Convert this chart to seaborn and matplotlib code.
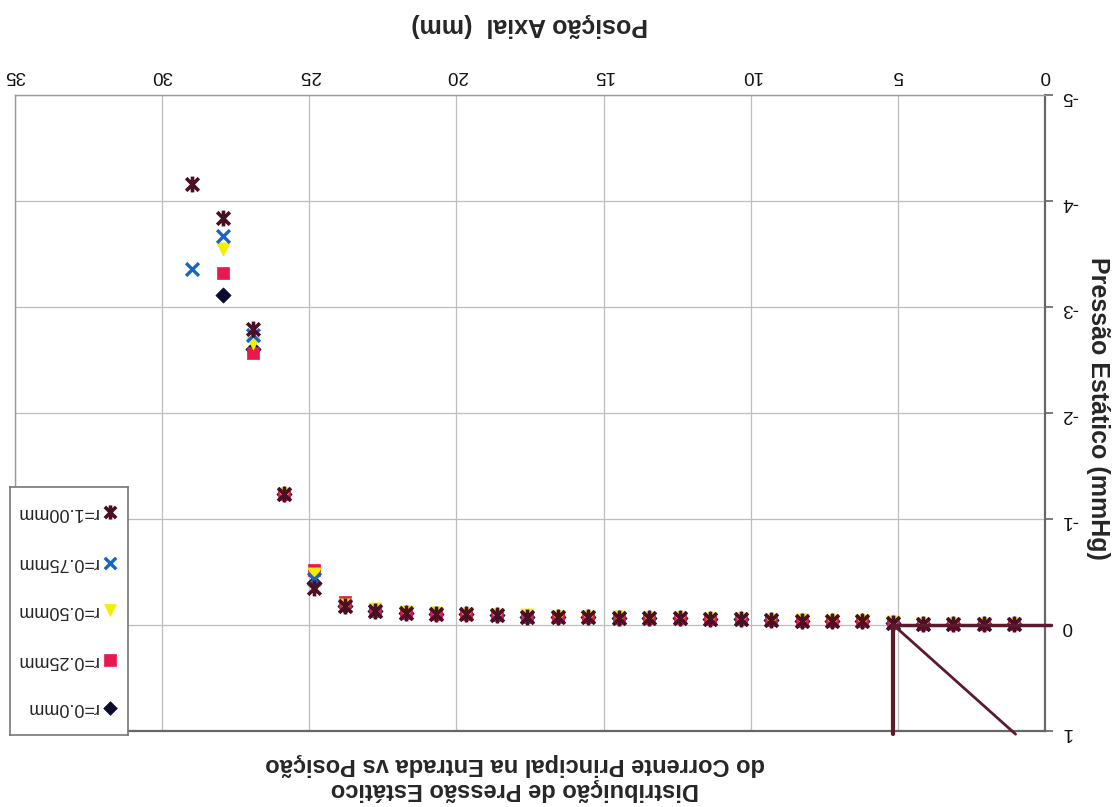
import numpy as np
import pandas as pd
import matplotlib
matplotlib.use("Agg")
import matplotlib.pyplot as plt
from matplotlib.path import Path
import seaborn as sns

# ---------------- data ----------------
x_mm = [1.05, 2.08, 3.11, 4.14, 5.17, 6.21, 7.24, 8.27, 9.31, 10.34, 11.38, 12.41,
        13.45, 14.48, 15.52, 16.55, 17.59, 18.62, 19.66, 20.69, 21.72, 22.76,
        23.79, 24.83, 25.86, 26.90, 27.93, 28.97]
nan = np.nan
p_r000 = [-0.01, -0.01, -0.01, -0.01, -0.02, -0.04, -0.04, -0.04, -0.05, -0.06, -0.06, -0.07,
          -0.07, -0.07, -0.08, -0.08, -0.08, -0.09, -0.10, -0.10, -0.11, -0.13,
          -0.18, -0.40, -1.24, -2.60, -3.11, nan]
p_r025 = [-0.01, -0.01, -0.01, -0.01, -0.02, -0.04, -0.04, -0.04, -0.05, -0.06, -0.06, -0.07,
          -0.07, -0.07, -0.08, -0.08, -0.08, -0.09, -0.10, -0.10, -0.11, -0.13,
          -0.22, -0.52, -1.24, -2.57, -3.32, nan]
p_r050 = [-0.01, -0.01, -0.01, -0.01, -0.03, -0.04, -0.04, -0.05, -0.05, -0.06, -0.06, -0.07,
          -0.07, -0.08, -0.08, -0.08, -0.09, -0.09, -0.10, -0.11, -0.12, -0.15,
          -0.19, -0.48, -1.24, -2.66, -3.55, nan]
p_r075 = [-0.01, -0.01, -0.01, -0.01, -0.02, -0.04, -0.04, -0.04, -0.05, -0.06, -0.06, -0.07,
          -0.07, -0.07, -0.08, -0.08, -0.08, -0.09, -0.10, -0.10, -0.11, -0.13,
          -0.18, -0.43, -1.24, -2.74, -3.67, -3.36]
p_r100 = [-0.01, -0.01, -0.01, -0.01, -0.02, -0.04, -0.04, -0.04, -0.05, -0.06, -0.06, -0.07,
          -0.07, -0.07, -0.08, -0.08, -0.08, -0.09, -0.10, -0.10, -0.11, -0.13,
          -0.18, -0.35, -1.24, -2.79, -3.84, -4.16]

series_names = ["r=0.0mm", "r=0.25mm", "r=0.50mm", "r=0.75mm", "r=1.00mm"]
series_values = [p_r000, p_r025, p_r050, p_r075, p_r100]

x_ticks = [0, 5, 10, 15, 20, 25, 30, 35]
y_ticks = [-5, -4, -3, -2, -1, 0, 1]

# drawn annotation lines (from the original sheet)
vline_x = [5.15, 5.15]
vline_y = [0.0, 1.03]
hline_x = [5.15, -0.2]
hline_y = [0.0, 0.0]
dline_x = [5.15, 1.0]
dline_y = [0.0, 1.03]

title = "Distribuição de Pressão Estático\ndo Corrente Principal na Entrada vs Posição"
xlabel = "Posição Axial  (mm)"
ylabel = "Pressão Estático (mmHg)"

# ---------------- style ----------------
sns.set_theme(style="white")
plt.rcParams["font.family"] = ["Liberation Sans", "DejaVu Sans"]

star = Path([(-1, -1), (1, 1), (-1, 1), (1, -1), (0, -1.25), (0, 1.25)],
            [Path.MOVETO, Path.LINETO, Path.MOVETO, Path.LINETO, Path.MOVETO, Path.LINETO])
colors = ["#0B0B2E", "#E8194F", "#F2EE05", "#1565C8", "#4A0F22"]
markers = ["D", "s", "v", "x", star]
sizes = [60, 85, 90, 85, 130]
lws = [0.5, 0.5, 0.5, 2.4, 2.6]

fig = plt.figure(figsize=(11.16, 8.07), dpi=100)
ax = fig.add_axes([15 / 1116, 1 - 731 / 807, 1030 / 1116, 636 / 807])

for name, vals, c, m, s, lw in zip(series_names, series_values, colors, markers, sizes, lws):
    d = pd.DataFrame({"x": x_mm, "p": vals}).dropna()
    sns.scatterplot(data=d, x="x", y="p", ax=ax, color=c, marker=m, s=s,
                    edgecolor=c, linewidth=lw, legend=False, zorder=3)

line_c = "#5C1A2C"
ax.plot(vline_x, vline_y, color=line_c, lw=3, clip_on=False, zorder=4)
ax.plot(hline_x, hline_y, color=line_c, lw=2.5, clip_on=False, zorder=4)
ax.plot(dline_x, dline_y, color=line_c, lw=2, clip_on=False, zorder=4)

# rotated (upside-down) view
ax.set_xlim(35, 0)
ax.set_ylim(1, -5)
ax.set_xticks(x_ticks)
ax.set_yticks(y_ticks)
ax.set_xticklabels([str(v) for v in x_ticks], rotation=180, fontsize=13.5)
ax.set_yticklabels([str(v) for v in y_ticks], rotation=180, fontsize=13.5)
ax.xaxis.tick_top()
ax.yaxis.tick_right()
ax.tick_params(axis="x", length=0, pad=14, colors="#111111")
ax.tick_params(axis="y", length=6, width=1.2, direction="out", pad=6, colors="#111111", color="#666666")
for t in ax.get_xticklabels():
    t.set_va("center")
ax.grid(True, color="#BDBDBD", lw=0.9)
ax.set_axisbelow(True)
for side in ["left", "top"]:
    ax.spines[side].set_color("#9A9A9A")
    ax.spines[side].set_linewidth(1.0)
for side in ["right", "bottom"]:
    ax.spines[side].set_color("#666666")
    ax.spines[side].set_linewidth(1.6)

ax.xaxis.set_label_position("top")
ax.set_xlabel(xlabel, rotation=180, fontsize=18, fontweight="bold", va="center", ha="center")
ax.xaxis.set_label_coords((530 - 15) / 1030, (731 - 25) / 636)
ax.yaxis.set_label_position("right")
ax.set_ylabel(ylabel, rotation=270, fontsize=18, fontweight="bold", va="center", ha="center")
ax.yaxis.set_label_coords((1098 - 15) / 1030, (731 - 408) / 636)

fig.text(515 / 1116, 1 - 777 / 807, title, rotation=180, ha="center", va="center",
         multialignment="center", fontsize=17, fontweight="bold", linespacing=1.1)

# legend (upside-down)
lg = fig.add_axes([10 / 1116, 1 - 735 / 807, 118 / 1116, 248 / 807])
lg.set_xlim(0, 1)
lg.set_ylim(0, 1)
lg.set_xticks([])
lg.set_yticks([])
for sp in lg.spines.values():
    sp.set_color("#777777")
    sp.set_linewidth(1.2)
lg.set_facecolor("white")
ent_y = [0.109, 0.302, 0.504, 0.694, 0.899]
for name, c, m, s, lw, yy in zip(series_names, colors, markers, sizes, lws, ent_y):
    lg.scatter([0.85], [yy], color=c, marker=m, s=s * 0.8, edgecolor=c, linewidth=lw)
    lg.text(0.745, yy, name, rotation=180, ha="right", va="center", fontsize=13)

fig.savefig("out.png", dpi=100)
